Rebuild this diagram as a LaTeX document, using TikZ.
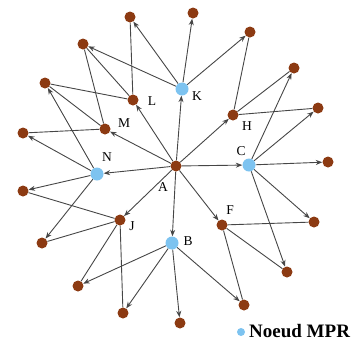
\documentclass[tikz,border=0pt]{standalone}
\usepackage{fontspec}
\setmainfont{Liberation Serif}
\usetikzlibrary{arrows.meta}
\definecolor{brn}{RGB}{140,58,18}
\definecolor{mpr}{RGB}{125,195,240}
\definecolor{edgec}{RGB}{70,70,70}
\pgfdeclarelayer{bg}
\pgfsetlayers{bg,main}
\begin{document}
\begin{tikzpicture}[x=1pt,y=-1pt,
  dot/.style={circle,fill=brn,inner sep=0pt,minimum size=11pt},
  mprdot/.style={circle,fill=mpr,inner sep=0pt,minimum size=13pt},
  lab/.style={font=\fontsize{13.5}{13.5}\selectfont,inner sep=0pt},
  arr/.style={draw=edgec,line width=0.9pt,-{Stealth[length=6.5pt,width=5pt]}},
  lnk/.style={draw=edgec,line width=0.9pt}]
\useasboundingbox (0,0) rectangle (363,346);
% inner nodes
\node[dot] (A) at (176,166) {};
\node[mprdot] (K) at (182,89) {};
\node[dot] (H) at (233,115) {};
\node[mprdot] (C) at (249,165) {};
\node[dot] (F) at (222,225) {};
\node[mprdot] (B) at (172,243) {};
\node[dot] (J) at (120,220) {};
\node[mprdot] (N) at (97,174) {};
\node[dot] (M) at (105,129) {};
\node[dot] (L) at (133,100) {};
% outer nodes
\node[dot] (o1) at (130,17) {};
\node[dot] (o2) at (193,13) {};
\node[dot] (o3) at (250,32) {};
\node[dot] (o4) at (294,68) {};
\node[dot] (o5) at (318,108) {};
\node[dot] (o6) at (328,162) {};
\node[dot] (o7) at (314,222) {};
\node[dot] (o8) at (287,272) {};
\node[dot] (o9) at (244,305) {};
\node[dot] (o10) at (180,323) {};
\node[dot] (o11) at (123,313) {};
\node[dot] (o12) at (78,286) {};
\node[dot] (o13) at (42,243) {};
\node[dot] (o14) at (23,191) {};
\node[dot] (o15) at (23,133) {};
\node[dot] (o16) at (45,83) {};
\node[dot] (o17) at (83,44) {};
% labels
\node[lab] (lA) at (163,187) {A};
\node[lab] (lK) at (197,96) {K};
\node[lab] (lH) at (247,126) {H};
\node[lab] (lC) at (241,151) {C};
\node[lab] (lF) at (230,210) {F};
\node[lab] (lB) at (188,241) {B};
\node[lab] (lJ) at (132,226) {J};
\node[lab] (lN) at (107,157) {N};
\node[lab] (lM) at (124,123) {M};
\node[lab] (lL) at (152,101) {L};
% legend
\node[circle,fill=mpr,inner sep=0pt,minimum size=8pt] (legdot) at (241,332) {};
\node[font=\bfseries\fontsize{19}{19}\selectfont,anchor=west,inner sep=0pt] (legtxt) at (249,331) {Noeud MPR};
\begin{pgfonlayer}{bg}
\foreach \t in {K,H,C,F,B,J,N,M,L} \draw[arr] (A) -- (\t);
\foreach \t in {o1,o2,o3,o17} \draw[arr] (K) -- (\t);
\foreach \t in {o4,o5,o6,o7,o8} \draw[arr] (C) -- (\t);
\foreach \t in {o9,o10,o11,o12} \draw[arr] (B) -- (\t);
\foreach \t in {o13,o14,o15,o16} \draw[arr] (N) -- (\t);
\foreach \t in {o1,o16,o17} \draw[lnk] (L) -- (\t);
\foreach \t in {o15,o16,o17} \draw[lnk] (M) -- (\t);
\foreach \t in {o3,o4,o5} \draw[lnk] (H) -- (\t);
\foreach \t in {o7,o8,o9} \draw[lnk] (F) -- (\t);
\foreach \t in {o11,o12,o13,o14} \draw[lnk] (J) -- (\t);
\end{pgfonlayer}
\end{tikzpicture}
\end{document}
